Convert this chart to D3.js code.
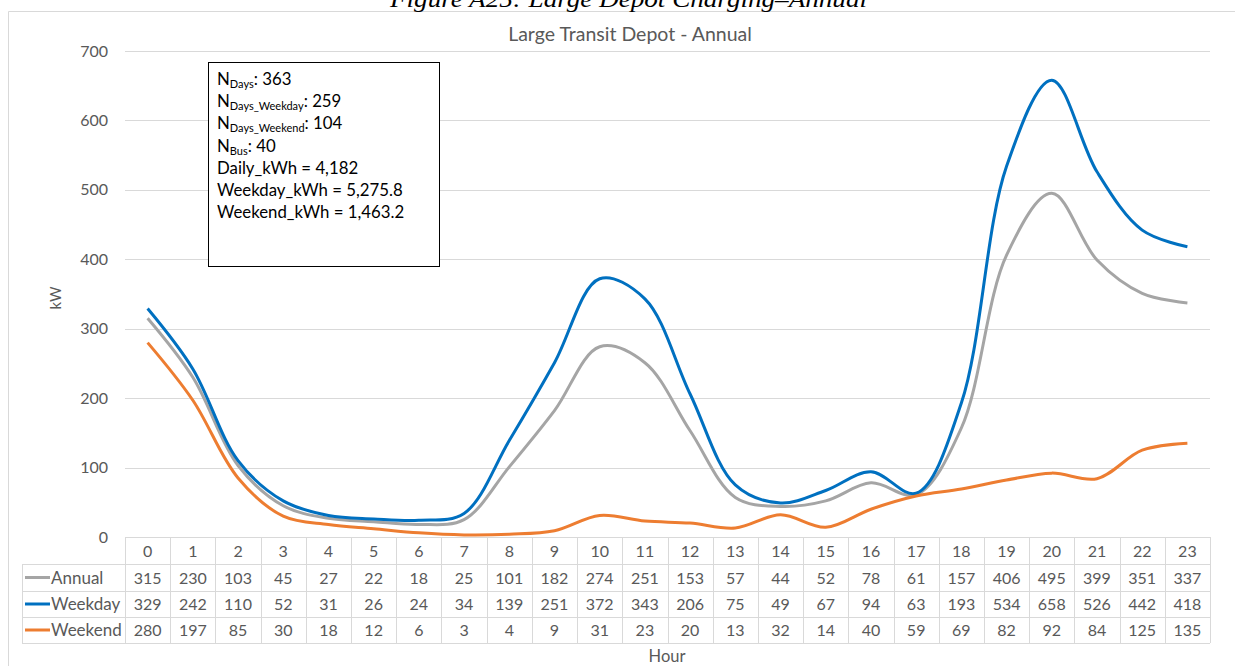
<!DOCTYPE html>
<html><head><meta charset="utf-8">
<script src="https://cdn.jsdelivr.net/npm/d3@7"></script>
<style>
html,body{margin:0;padding:0;background:#fff;}
svg{display:block;}
</style></head>
<body>
<svg id="c" width="1235" height="666"></svg>
<script>
const hours = [0,1,2,3,4,5,6,7,8,9,10,11,12,13,14,15,16,17,18,19,20,21,22,23];
const annual  = [315,230,103,45,27,22,18,25,101,182,274,251,153,57,44,52,78,61,157,406,495,399,351,337];
const weekday = [329,242,110,52,31,26,24,34,139,251,372,343,206,75,49,67,94,63,193,534,658,526,442,418];
const weekend = [280,197,85,30,18,12,6,3,4,9,31,23,20,13,32,14,40,59,69,82,92,84,125,135];
const seriesNames = ["Annual","Weekday","Weekend"];
const seriesColors = ["#A5A5A5","#0070C0","#ED7D31"];
const yTicks = [0,100,200,300,400,500,600,700];
const chartTitle = "Large Transit Depot - Annual";
const figCaption = "Figure A25:  Large Depot Charging\u2013Annual";
const infoLines = [
  {main:"N", sub:"Days", rest:": 363"},
  {main:"N", sub:"Days_Weekday", rest:": 259"},
  {main:"N", sub:"Days_Weekend", rest:": 104"},
  {main:"N", sub:"Bus", rest:": 40"},
  {main:"Daily_kWh = 4,182"},
  {main:"Weekday_kWh = 5,275.8"},
  {main:"Weekend_kWh = 1,463.2"}
];

(function(){
const seriesData = [annual, weekday, weekend];
const svg = d3.select("#c");
const font = "Lato, 'Open Sans', sans-serif";
const txt = "#595959";
const grid = "#D9D9D9";

// frame
svg.append("path").attr("d","M8.5,666 V11.5 H1235").attr("fill","none").attr("stroke",grid).attr("stroke-width",1);

// figure caption (cut off at top, as in the source page)
svg.append("text").attr("x",390).attr("y",7)
  .attr("font-family","'Liberation Serif', 'Times New Roman', serif").attr("font-style","italic")
  .attr("font-size",24).attr("fill","#000")
  .attr("textLength",477).attr("lengthAdjust","spacingAndGlyphs").text(figCaption);

const pLeft = 125, pRight = 1210, pTop = 51, pBottom = 537;
const x = d3.scaleBand().domain(hours).range([pLeft,pRight]);
const y = d3.scaleLinear().domain([0,700]).range([pBottom,pTop]);

// gridlines
svg.append("g").selectAll("line").data(yTicks.filter(d=>d>0)).join("line")
  .attr("x1",pLeft).attr("x2",pRight).attr("y1",d=>Math.round(y(d))+0.5).attr("y2",d=>Math.round(y(d))+0.5)
  .attr("stroke",grid).attr("stroke-width",1);

// y axis labels
const yAxis = d3.axisLeft(y).tickValues(yTicks).tickSize(0).tickPadding(0);
const ga = svg.append("g").attr("transform",`translate(${pLeft-17},0)`).call(yAxis);
ga.select(".domain").remove();
ga.selectAll("text").attr("font-family",font).attr("font-size",16).attr("fill",txt);

// title
svg.append("text").attr("x",630).attr("y",41).attr("text-anchor","middle")
  .attr("font-family",font).attr("font-size",19.5).attr("fill",txt).text(chartTitle);

// y label
svg.append("text").attr("transform","translate(61,298) rotate(-90)").attr("text-anchor","middle")
  .attr("font-family",font).attr("font-size",15).attr("fill",txt).text("kW");
// x label
svg.append("text").attr("x",667).attr("y",662).attr("text-anchor","middle")
  .attr("font-family",font).attr("font-size",16.5).attr("fill",txt).text("Hour");

// lines
const line = d3.line().x((d,i)=>x(hours[i])+x.bandwidth()/2).y(d=>y(d)).curve(d3.curveCatmullRom.alpha(0.5));
svg.append("g").selectAll("path").data(seriesData).join("path")
  .attr("d",d=>line(d)).attr("fill","none")
  .attr("stroke",(d,i)=>seriesColors[i]).attr("stroke-width",3).attr("stroke-linejoin","round");

// data table
const rowY = [537,564,591,617,643];
const tableLeft = 22;
const tg = svg.append("g");
tg.append("line").attr("x1",pLeft).attr("x2",pRight).attr("y1",rowY[0]+0.5).attr("y2",rowY[0]+0.5).attr("stroke",grid);
for (let r=1;r<rowY.length;r++){
  tg.append("line").attr("x1",tableLeft).attr("x2",pRight).attr("y1",rowY[r]+0.5).attr("y2",rowY[r]+0.5).attr("stroke",grid);
}
tg.append("line").attr("x1",tableLeft+0.5).attr("x2",tableLeft+0.5).attr("y1",rowY[1]).attr("y2",rowY[4]).attr("stroke",grid);
const colEdges = hours.map(h=>x(h)).concat([pRight]);
tg.selectAll(".v").data(colEdges).join("line")
  .attr("x1",d=>Math.round(d)+0.5).attr("x2",d=>Math.round(d)+0.5).attr("y1",rowY[0]).attr("y2",rowY[4]).attr("stroke",grid);
tg.selectAll(".h").data(hours).join("text")
  .attr("x",d=>x(d)+x.bandwidth()/2).attr("y",(rowY[0]+rowY[1])/2+6).attr("text-anchor","middle")
  .attr("font-family",font).attr("font-size",16).attr("fill",txt).text(d=>d);
seriesData.forEach((vals,si)=>{
  const cy = (rowY[si+1]+rowY[si+2])/2;
  tg.append("line").attr("x1",25).attr("x2",50).attr("y1",cy).attr("y2",cy)
    .attr("stroke",seriesColors[si]).attr("stroke-width",3);
  tg.append("text").attr("x",51).attr("y",cy+6).attr("font-family",font).attr("font-size",17).attr("fill",txt).text(seriesNames[si]);
  tg.selectAll(".r"+si).data(vals).join("text")
    .attr("x",(d,i)=>x(hours[i])+x.bandwidth()/2).attr("y",cy+6).attr("text-anchor","middle")
    .attr("font-family",font).attr("font-size",16).attr("fill",txt).text(d=>d);
});

// info box
const ib = svg.append("g");
ib.append("rect").attr("x",208.5).attr("y",62.5).attr("width",231).attr("height",204)
  .attr("fill","#fff").attr("stroke","#000").attr("stroke-width",1);
infoLines.forEach((l,i)=>{
  const t = ib.append("text").attr("x",217).attr("y",85+i*22.2).attr("font-family",font).attr("font-size",16.8).attr("fill","#000");
  t.append("tspan").text(l.main);
  if (l.sub){
    t.append("tspan").attr("font-size",11).attr("dy",3).text(l.sub);
    t.append("tspan").attr("dy",-3).text(l.rest);
  }
});
})();
</script>
</body></html>
